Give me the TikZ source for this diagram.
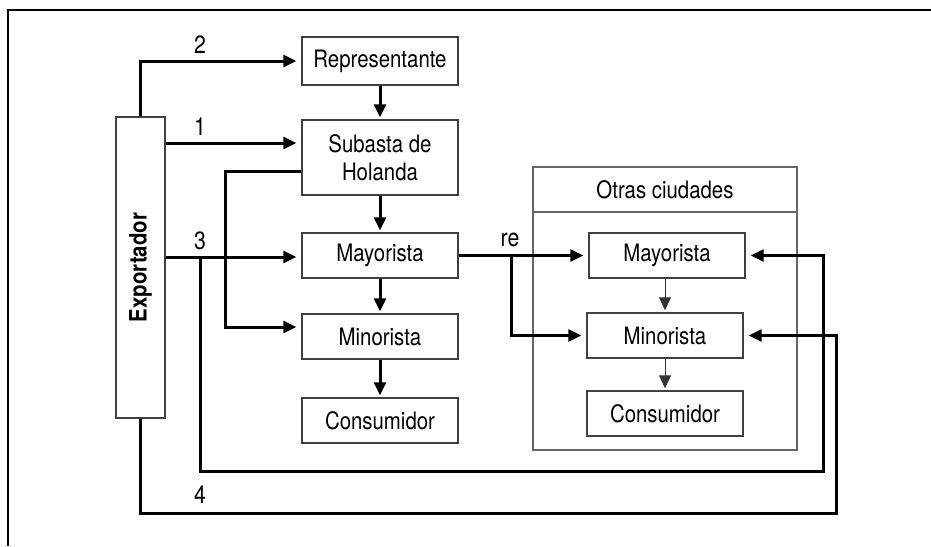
\documentclass[tikz,border=0pt]{standalone}
\usepackage{fontspec}
\setmainfont{TeX Gyre Heros}[FakeStretch=0.85]
\usetikzlibrary{arrows.meta}

\begin{document}
\begin{tikzpicture}
   [
    x=0.5pt, y=-0.5pt,
    every node/.style={font=\fontsize{12}{14}\selectfont, inner sep=0pt},
    caja/.style={rectangle, draw=black!75, line width=0.7pt,
                 minimum width=78pt, minimum height=22.5pt, align=center},
    marco/.style={rectangle, draw=black!60, line width=0.6pt,
                  minimum width=132pt},
    flecha/.style={-{Triangle[length=6.5pt,width=6pt]}, line width=1.5pt,
                   shorten >=2.5pt},
    bajada/.style={flecha, shorten >=1pt},
    fina/.style={-{Triangle[length=6.5pt,width=6pt]}, line width=0.5pt,
                 draw=black!80, shorten >=1pt},
    numero/.style={font=\fontsize{12.5}{14}\selectfont}
    ]

\useasboundingbox (0,0) rectangle (931,546);
\draw[line width=1pt] (931,10) -| (8,546);

% columna izquierda
\node[caja, minimum width=24.5pt, minimum height=150.5pt] (expo) at (140.5,267.5)
     {\rotatebox{90}{\bfseries Exportador}};
\node[caja, minimum height=24pt] (repr) at (380,61) {Representante};
\node[caja, minimum height=37.5pt] (subasta) at (380,157.5) {Subasta de\\Holanda};
\node[caja] (mayo) at (380,255.5) {Mayorista};
\node[caja] (mino) at (380,336.5) {Minorista};
\node[caja] (cons) at (380,420.5) {Consumidor};

% otras ciudades
\node[marco, minimum height=119pt] (otras) at (665,331) {};
\node[marco, minimum height=22.5pt] (otrasT) at (665,189.5) {Otras ciudades};
\node[caja] (mayo2) at (667,255.5) {Mayorista};
\node[caja] (mino2) at (665,335.5) {Minorista};
\node[caja] (cons2) at (665,413.5) {Consumidor};

% puntos de paso
\coordinate (r1) at (200,143);
\coordinate (r3) at (200,257);
\coordinate (s1) at (225,171);
\coordinate (m1) at (225,327);
\coordinate (re) at (511,256);
\coordinate (v3) at (823,471);
\coordinate (v4) at (836,513);

% rutas del exportador
\draw[flecha] (expo.north) |- (repr.west);
\draw[flecha] (expo.east |- r1) -- (subasta.west |- r1);
\draw[flecha] (expo.east |- r3) -- (mayo.west |- r3);
\draw[flecha] (r3) |- (v3) |- (mayo2.east);
\draw[flecha] (expo.south) |- (v4) |- (mino2.east);
\draw[flecha] (subasta.west |- s1) -| (m1) -- (mino.west |- m1);
\draw[flecha] (mayo.east) -- (mayo2.west);
\draw[flecha] (re) |- (mino2.west);

% cadena
\draw[bajada] (repr) -- (subasta);
\draw[bajada] (subasta) -- (mayo);
\draw[bajada] (mayo) -- (mino);
\draw[bajada] (mino) -- (cons);
\draw[fina] (mayo2.south -| mino2) -- (mino2);
\draw[fina] (mino2) -- (cons2);

% numeros
\node[numero] at (200,45) {2};
\node[numero] at (200,127) {1};
\node[numero] at (200,241) {3};
\node[numero] at (200,495) {4};
\node[numero] at (510,240) {re};

\end{tikzpicture}
\end{document}
